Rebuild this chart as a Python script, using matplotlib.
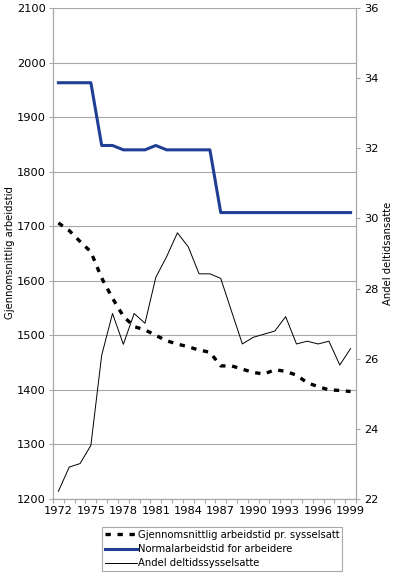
import matplotlib
matplotlib.use('Agg')
import matplotlib.pyplot as plt
import numpy as np

# Data
years = list(range(1972, 2000))

avg_hours = [1706, 1692, 1672, 1653, 1605, 1568, 1535, 1516, 1510, 1500,
             1490, 1484, 1479, 1473, 1469, 1444, 1444, 1438, 1432, 1429,
             1437, 1434, 1427, 1413, 1406, 1400, 1399, 1397]

normal_hours = [1963, 1963, 1963, 1963, 1848, 1848, 1840, 1840, 1840, 1848,
                1840, 1840, 1840, 1840, 1840, 1725, 1725, 1725, 1725, 1725,
                1725, 1725, 1725, 1725, 1725, 1725, 1725, 1725]

part_time_share = [22.22, 22.91, 23.01, 23.53, 26.1, 27.29, 26.41, 27.29, 27.01, 28.32,
                   28.91, 29.59, 29.19, 28.42, 28.42, 28.29, 27.35, 26.42, 26.61, 26.70,
                   26.79, 27.2, 26.42, 26.50, 26.42, 26.50, 25.82, 26.29]

labels = ['Gjennomsnittlig arbeidstid pr. sysselsatt',
          'Normalarbeidstid for arbeidere',
          'Andel deltidssysselsatte']

left_ticks = list(range(1200, 2101, 100))
right_ticks = list(range(22, 37, 2))
year_labels = list(range(1972, 2000, 3))

GRAY = '#a8a8a8'
BLUE = '#203f94'
FS_TICK = 8.2
FS = 7.2

plt.rcParams['font.family'] = 'DejaVu Sans'

fig = plt.figure(figsize=(3.97, 5.75), dpi=100)
ax = fig.add_axes([53 / 397, 1 - 499 / 575, 303 / 397, 491 / 575])
ax2 = ax.twinx()

l3, = ax2.plot(years, part_time_share, color='black', lw=0.7)
l1, = ax.plot(years, avg_hours, color='black', lw=2.4, ls=(0, (1.6, 2.0)))
l2, = ax.plot(years, normal_hours, color=BLUE, lw=2.2)

ax.set_xlim(1971.5, 1999.5)
ax.set_ylim(1200, 2100)
ax2.set_ylim(22, 36)
ax.set_yticks(left_ticks)
ax2.set_yticks(right_ticks)
ax.set_xticks(year_labels)
ax.set_xticks(np.arange(1971.5, 2000, 1), minor=True)

ax.yaxis.grid(True, color=GRAY, lw=0.8)
ax.set_axisbelow(True)

for a in (ax, ax2):
    a.spines['top'].set_visible(False)
    for s in ('left', 'right', 'bottom'):
        a.spines[s].set_color(GRAY)
        a.spines[s].set_linewidth(0.8)

ax.tick_params(axis='y', labelsize=FS_TICK, color=GRAY, length=3, width=0.8, pad=2)
ax2.tick_params(axis='y', labelsize=FS_TICK, color=GRAY, length=3, width=0.8, pad=3)
ax.tick_params(axis='x', which='major', labelsize=FS_TICK, length=0, pad=5)
ax.tick_params(axis='x', which='minor', color=GRAY, length=3, width=0.8)

fig.text(10 / 397, 1 - 253 / 575, 'Gjennomsnittlig arbeidstid', rotation=90,
         ha='center', va='center', fontsize=FS)
fig.text(388 / 397, 1 - 253 / 575, 'Andel deltidsansatte', rotation=90,
         ha='center', va='center', fontsize=FS)

leg = fig.legend([l1, l2, l3], labels, loc='upper left',
                 bbox_to_anchor=(102 / 397, 1 - 527 / 575), borderaxespad=0,
                 fontsize=FS, handlelength=3.2, handletextpad=0.15,
                 labelspacing=0.45, borderpad=0.25, fancybox=False,
                 framealpha=1)
leg.get_frame().set_edgecolor(GRAY)
leg.get_frame().set_linewidth(0.8)

fig.savefig('out.png', dpi=100, facecolor='white')
